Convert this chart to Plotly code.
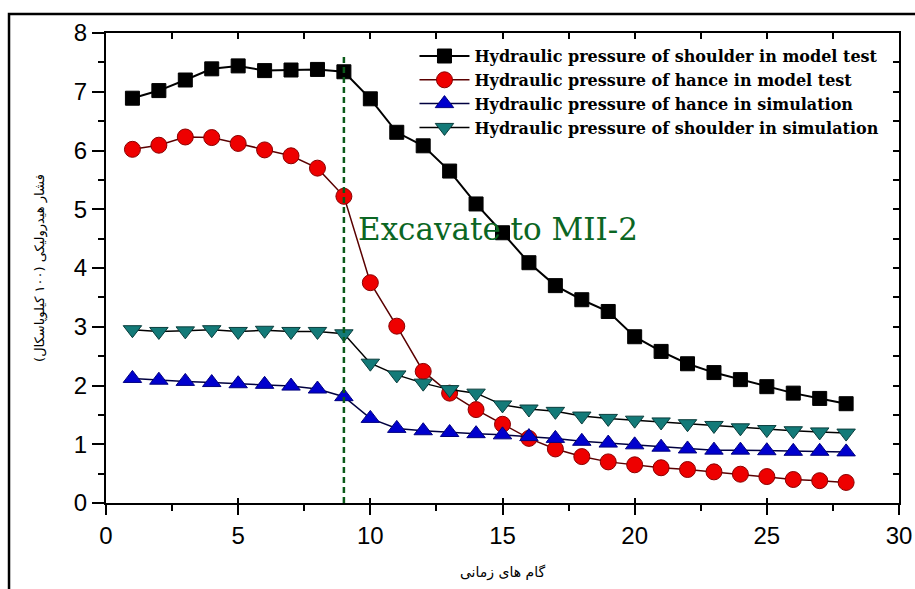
import plotly.graph_objects as go

# Time steps
steps = list(range(1, 29))

# Hydraulic pressure (x100 kPa)
shoulder_test = [6.89, 7.02, 7.20, 7.39, 7.44, 7.36, 7.37, 7.38, 7.34, 6.88,
                 6.31, 6.08, 5.65, 5.09, 4.60, 4.09, 3.70, 3.46, 3.26, 2.83,
                 2.58, 2.37, 2.22, 2.10, 1.98, 1.87, 1.78, 1.69]
hance_test = [6.02, 6.09, 6.23, 6.22, 6.12, 6.01, 5.91, 5.70, 5.22, 3.75,
              3.01, 2.24, 1.87, 1.59, 1.34, 1.10, 0.92, 0.79, 0.70, 0.65,
              0.60, 0.57, 0.53, 0.49, 0.45, 0.40, 0.38, 0.35]
hance_sim = [2.12, 2.09, 2.07, 2.05, 2.03, 2.02, 1.99, 1.94, 1.81, 1.44,
             1.27, 1.23, 1.20, 1.18, 1.16, 1.13, 1.10, 1.05, 1.02, 0.99,
             0.95, 0.92, 0.90, 0.90, 0.89, 0.88, 0.88, 0.87]
shoulder_sim = [2.95, 2.92, 2.93, 2.95, 2.92, 2.94, 2.92, 2.92, 2.88, 2.38,
                2.18, 2.04, 1.93, 1.87, 1.67, 1.60, 1.56, 1.48, 1.44, 1.41,
                1.38, 1.35, 1.32, 1.28, 1.25, 1.23, 1.21, 1.19]

series_names = [
    "Hydraulic pressure of shoulder in model test",
    "Hydraulic pressure of hance in model test",
    "Hydraulic pressure of hance in simulation",
    "Hydraulic pressure of shoulder in simulation",
]

# Excavation stage marker
excavate_step = 9
excavate_top = 7.62
excavate_label = "Excavate to MII-2"

x_title = "گام های زمانی"
y_title = "فشار هیدرولیکی (۱۰۰ کیلوپاسکال)"

fig = go.Figure()

fig.add_trace(go.Scatter(
    x=steps, y=shoulder_test, name=series_names[0], mode="lines+markers",
    line=dict(color="black", width=2),
    marker=dict(symbol="square", size=14, color="black",
                line=dict(color="black", width=1)),
))
fig.add_trace(go.Scatter(
    x=steps, y=hance_test, name=series_names[1], mode="lines+markers",
    line=dict(color="#5a0000", width=1.5),
    marker=dict(symbol="circle", size=16, color="#ee0000",
                line=dict(color="#8b0000", width=1)),
))
fig.add_trace(go.Scatter(
    x=steps, y=hance_sim, name=series_names[2], mode="lines+markers",
    line=dict(color="#000040", width=1.5),
    marker=dict(symbol="triangle-up", size=16, color="#0000cd",
                line=dict(color="#000080", width=1)),
))
fig.add_trace(go.Scatter(
    x=steps, y=shoulder_sim, name=series_names[3], mode="lines+markers",
    line=dict(color="black", width=1.5),
    marker=dict(symbol="triangle-down", size=16, color="#137a78",
                line=dict(color="#0a3d3c", width=1)),
))

# Vertical dashed line at the excavation step
fig.add_trace(go.Scatter(
    x=[excavate_step, excavate_step], y=[0, excavate_top], mode="lines",
    line=dict(color="#0b5a1a", width=2.5, dash="6px,4px"),
    showlegend=False, hoverinfo="skip",
))

# Empty traces that carry the inner tick axes (top, right, bottom-inside)
fig.add_trace(go.Scatter(x=[None], y=[None], xaxis="x2", yaxis="y2",
                         showlegend=False, hoverinfo="skip"))
fig.add_trace(go.Scatter(x=[None], y=[None], xaxis="x3", yaxis="y2",
                         showlegend=False, hoverinfo="skip"))

tick_font = dict(family="Liberation Sans, Arial", size=24, color="black")

inner_axis = dict(showticklabels=False, showgrid=False, zeroline=False,
                  showline=False, tickwidth=2, tickcolor="black",
                  automargin=False)

fig.update_layout(
    width=915, height=589,
    margin=dict(l=106, r=16, t=33, b=86),
    paper_bgcolor="white", plot_bgcolor="white",
    showlegend=True,
    legend=dict(
        x=0.389, y=0.987, xanchor="left", yanchor="top",
        bgcolor="rgba(0,0,0,0)", borderwidth=0,
        font=dict(family="DejaVu Serif", size=16, color="black",
                  weight="bold"),
        tracegroupgap=0, itemwidth=50,
    ),
    xaxis=dict(
        range=[0, 30], tick0=0, dtick=5, showgrid=False, zeroline=False,
        showline=True, linecolor="black", linewidth=2, mirror=True,
        ticks="outside", ticklen=10, tickwidth=2, tickcolor="black",
        minor=dict(dtick=2.5, ticks="outside", ticklen=6, tickwidth=2,
                   tickcolor="black", showgrid=False),
        tickfont=tick_font, automargin=False,
        title=dict(text=x_title, standoff=19,
                   font=dict(family="DejaVu Sans", size=14, color="black")),
    ),
    yaxis=dict(
        range=[0, 8], tick0=0, dtick=1, showgrid=False, zeroline=False,
        showline=True, linecolor="black", linewidth=2, mirror=True,
        ticks="outside", ticklen=12, tickwidth=2, tickcolor="black",
        minor=dict(dtick=0.5, ticks="outside", ticklen=6, tickwidth=2,
                   tickcolor="black", showgrid=False),
        tickfont=tick_font, automargin=False,
        title=dict(text=y_title, standoff=26,
                   font=dict(family="DejaVu Sans", size=13, color="black")),
    ),
    xaxis2=dict(overlaying="x", side="top", anchor="y2", range=[0, 30],
                tick0=0, dtick=2.5, ticks="inside", ticklen=6, **inner_axis),
    xaxis3=dict(overlaying="x", side="bottom", anchor="y2", range=[0, 30],
                tick0=0, dtick=5, ticks="inside", ticklen=5, **inner_axis),
    yaxis2=dict(overlaying="y", side="right", anchor="x2", range=[0, 8],
                tick0=0, dtick=0.5, ticks="inside", ticklen=6, **inner_axis),
)

fig.add_annotation(
    x=excavate_step + 0.45, y=4.66, xref="x", yref="y",
    text=excavate_label, showarrow=False, xanchor="left", yanchor="middle",
    font=dict(family="DejaVu Serif", size=31, color="#0b6623"),
)

# Outer frame around the figure
fig.add_shape(
    type="rect", xref="paper", yref="paper",
    x0=-0.1223, x1=1.2, y0=-0.3, y1=1.0404,
    line=dict(color="black", width=2.5), fillcolor="rgba(0,0,0,0)",
)

fig.write_html("out.html")
